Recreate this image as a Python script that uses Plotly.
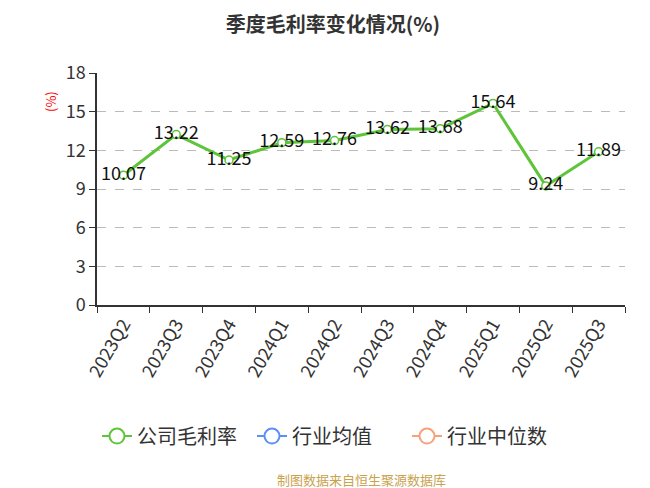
import plotly.graph_objects as go

categories = ["2023Q2", "2023Q3", "2023Q4", "2024Q1", "2024Q2", "2024Q3", "2024Q4", "2025Q1", "2025Q2", "2025Q3"]
company = [10.07, 13.22, 11.25, 12.59, 12.76, 13.62, 13.68, 15.64, 9.24, 11.89]
industry_avg = [None] * len(categories)
industry_median = [None] * len(categories)
y_ticks = [0, 3, 6, 9, 12, 15, 18]

font_family = "Noto Sans CJK SC, Noto Sans, sans-serif"
green, blue, orange = "#5ec43a", "#5b8ff9", "#f5a27a"

fig = go.Figure()
fig.add_trace(go.Scatter(
    x=categories, y=company, name="公司毛利率", mode="lines+markers+text", showlegend=False,
    line=dict(color=green, width=3),
    marker=dict(symbol="circle", size=8, color="white", line=dict(color=green, width=1.5)),
    text=[f"{v:.2f}" for v in company], textposition="middle center",
    textfont=dict(size=18, color="#111", family=font_family),
))
# legend entries
for name, vals, col in [("公司毛利率", [None] * len(categories), green),
                        ("行业均值", industry_avg, blue),
                        ("行业中位数", industry_median, orange)]:
    fig.add_trace(go.Scatter(
        x=categories, y=vals, name=name, mode="lines+markers",
        line=dict(color=col, width=2),
        marker=dict(symbol="circle", size=15, color="white", line=dict(color=col, width=2)),
    ))

fig.update_layout(
    width=650, height=488,
    margin=dict(l=89, r=33, t=65, b=191),
    paper_bgcolor="white", plot_bgcolor="white",
    font=dict(family=font_family, color="#333"),
    title=dict(text="<b>季度毛利率变化情况(%)</b>", x=0.5, xanchor="center", y=0.965, yanchor="middle",
               font=dict(size=20, color="#333")),
    showlegend=True,
    legend=dict(orientation="h", x=0.0, xanchor="left", y=-0.565, yanchor="middle",
                font=dict(size=20, color="#333"), traceorder="normal",
                entrywidth=110, entrywidthmode="pixels"),
    xaxis=dict(
        type="category", tickangle=-60, tickson="boundaries",
        showline=True, linecolor="#333", linewidth=1.5,
        ticks="outside", ticklen=6, tickcolor="#333",
        tickfont=dict(size=18, color="#333"), showgrid=False,
        range=[-0.5, len(categories) - 0.5],
    ),
    yaxis=dict(
        range=[0, 18], tickvals=y_ticks, showline=True, linecolor="#333", linewidth=1.5,
        ticks="outside", ticklen=6, tickcolor="#333",
        tickfont=dict(size=18, color="#333"),
        showgrid=True, gridcolor="#bbbbbb", griddash="dash", gridwidth=1.2,
        zeroline=False,
    ),
    annotations=[
        dict(text="(%)", x=-0.089, y=0.875, xref="paper", yref="paper", showarrow=False,
             xanchor="center", yanchor="middle",
             textangle=-90, font=dict(size=13, color="red")),
        dict(text="制图数据来自恒生聚源数据库", x=0.5, y=-0.754, xref="paper", yref="paper",
             xanchor="center", yanchor="middle",
             showarrow=False, font=dict(size=13, color="#c9a24d")),
    ],
)

fig.write_html("out.html")
